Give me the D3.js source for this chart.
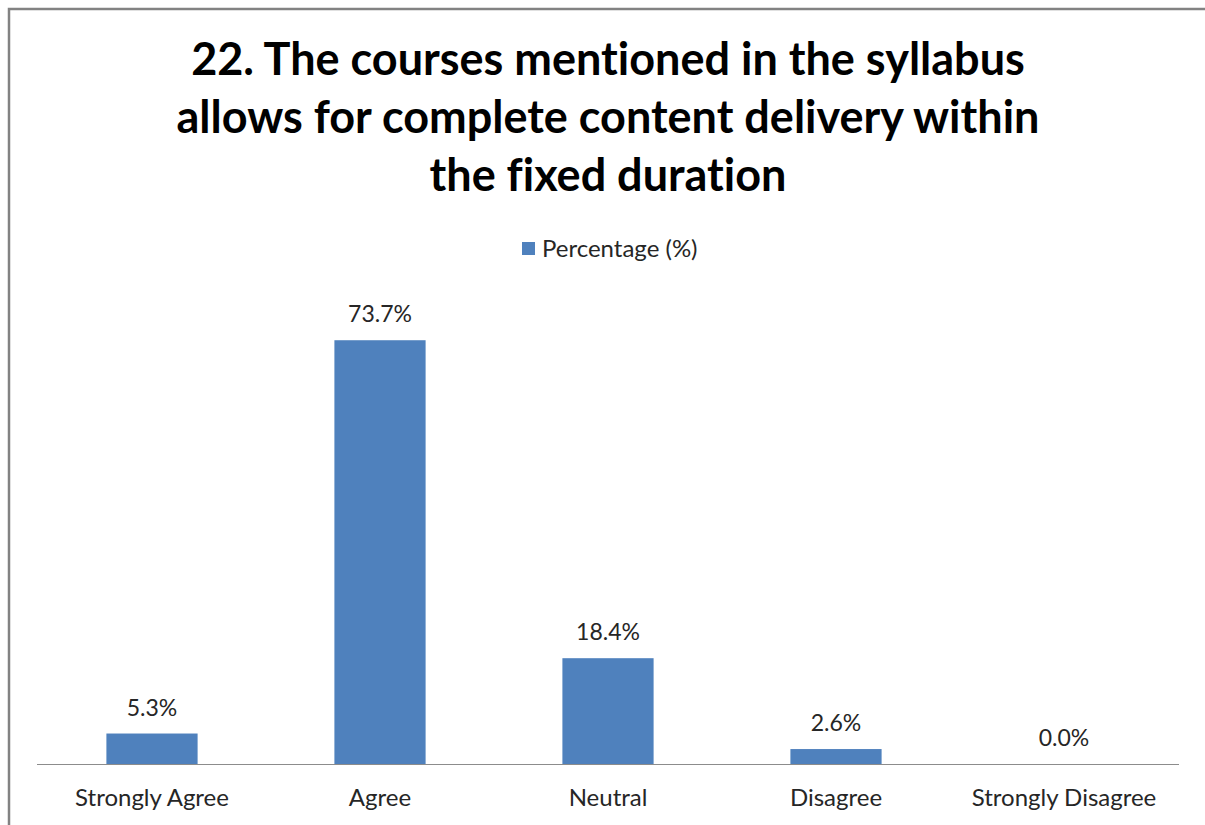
<!DOCTYPE html>
<html>
<head>
<meta charset="utf-8">
<script src="https://cdn.jsdelivr.net/npm/d3@7"></script>
<style>
  body { margin: 0; background: #fff; }
  svg { display: block; }
  text { font-family: Lato, "Open Sans", sans-serif; font-variant-ligatures: none; }
</style>
</head>
<body>
<div id="chart"></div>
<script>
// chart data
var categories = ["Strongly Agree", "Agree", "Neutral", "Disagree", "Strongly Disagree"];
var percentages = [5.3, 73.7, 18.4, 2.6, 0.0];
var seriesName = "Percentage (%)";
var titleLines = [
    "22. The courses mentioned in the syllabus",
    "allows for complete content delivery within",
    "the fixed duration"
];

var width = 1205,
    height = 825,
    margin = { top: 304, right: 27, bottom: 61, left: 38 },
    barColor = "#4F81BD";

var svg = d3.select("#chart").append("svg")
    .attr("width", width)
    .attr("height", height);

// outer frame (runs off the right and bottom of the picture)
svg.append("rect")
    .attr("x", 9).attr("y", 9)
    .attr("width", 1210).attr("height", 830)
    .attr("fill", "none")
    .attr("stroke", "#828282")
    .attr("stroke-width", 2.5);

// title
svg.append("g").selectAll("text")
    .data(titleLines)
    .enter().append("text")
    .attr("x", 608)
    .attr("y", function(d, i) { return 75 + i * 58; })
    .attr("text-anchor", "middle")
    .attr("font-size", 45)
    .attr("font-weight", "bold")
    .attr("fill", "#000")
    .text(function(d) { return d; });

// legend
var legend = svg.append("g").attr("transform", "translate(522,242)");
legend.append("rect")
    .attr("width", 13).attr("height", 13)
    .attr("fill", barColor);
legend.append("text")
    .attr("x", 20).attr("y", 15)
    .attr("font-size", 24)
    .attr("fill", "#262626")
    .text(seriesName);

var x = d3.scaleBand()
    .domain(categories)
    .range([margin.left, width - margin.right])
    .paddingInner(0.6)
    .paddingOuter(0.3);

var y = d3.scaleLinear()
    .domain([0, 80])
    .range([height - margin.bottom, margin.top]);

var data = categories.map(function(c, i) { return { cat: c, value: percentages[i] }; });

svg.append("g").selectAll("rect")
    .data(data)
    .enter().append("rect")
    .attr("x", function(d) { return x(d.cat); })
    .attr("y", function(d) { return y(d.value); })
    .attr("width", x.bandwidth())
    .attr("height", function(d) { return y(0) - y(d.value); })
    .attr("fill", barColor);

// value labels
svg.append("g").selectAll("text")
    .data(data)
    .enter().append("text")
    .attr("x", function(d) { return x(d.cat) + x.bandwidth() / 2; })
    .attr("y", function(d) { return y(d.value) - 18; })
    .attr("text-anchor", "middle")
    .attr("font-size", 23)
    .attr("fill", "#262626")
    .text(function(d) { return d.value.toFixed(1) + "%"; });

// x axis
var xAxis = svg.append("g")
    .attr("transform", "translate(0," + y(0) + ")")
    .call(d3.axisBottom(x).tickSize(0).tickPadding(0));
xAxis.select(".domain")
    .attr("stroke", "#8c8c8c")
    .attr("stroke-width", 1.2)
    .attr("d", "M" + (margin.left - 1) + ",0.5H" + (width - margin.right + 1));
xAxis.selectAll(".tick text")
    .attr("dy", null)
    .attr("y", 42)
    .attr("font-size", 24)
    .attr("font-family", "Lato, 'Open Sans', sans-serif")
    .attr("fill", "#262626");
</script>
</body>
</html>
